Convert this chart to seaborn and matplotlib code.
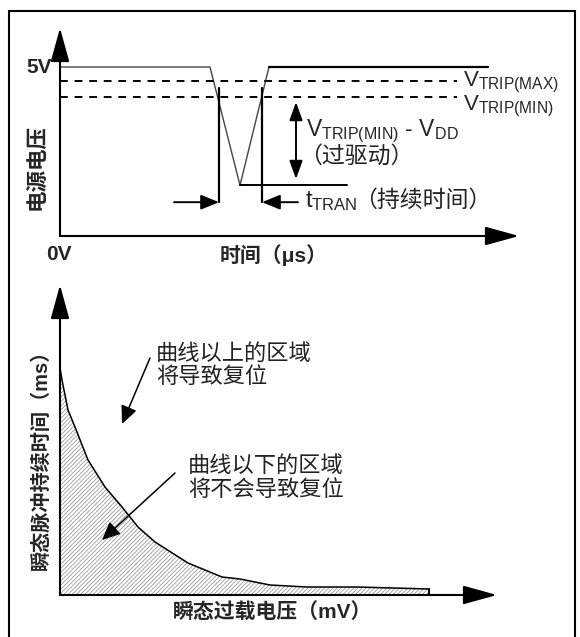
import numpy as np
import pandas as pd
import seaborn as sns
import matplotlib
matplotlib.use("Agg")
import matplotlib.pyplot as plt

sns.set_theme(style="white")
plt.rcParams['font.family'] = ['Liberation Sans', 'Noto Sans CJK SC']
plt.rcParams['mathtext.fontset'] = 'custom'
plt.rcParams['mathtext.rm'] = 'Liberation Sans'
plt.rcParams['mathtext.it'] = 'Liberation Sans'
plt.rcParams['mathtext.default'] = 'regular'
plt.rcParams['hatch.color'] = '#8a8a8a'
plt.rcParams['hatch.linewidth'] = 0.5

# --- top diagram: supply voltage (V) vs time (us) ---
pulse_t = [0, 15.0, 18.0, 20.9]
pulse_v = [5.0, 5.0, 1.5, 5.0]
recover_t = [20.9, 42.8]
recover_v = [5.0, 5.0]
hold_t = [18.0, 28.7]
hold_v = [1.5, 1.5]
trip_max = 4.6
trip_min = 4.1
trip_end = 39.7
cross_t = [15.9, 20.2]
marker_v = [1.0, 4.38]
tran_tail_t = [11.4, 23.8]
overdrive_t = 23.6
overdrive_v = [1.69, 3.96]

# --- bottom diagram: pulse duration (ms) vs overload voltage (mV) ---
overload_mv = [0, 2, 8, 15, 28, 45, 62, 78, 95, 128, 162, 180, 195, 210, 247, 297, 369]
duration_ms = [227, 215, 185, 168, 135, 108, 88, 68, 53, 32, 18, 16, 13, 10, 8, 8, 6]

note_above = ['曲线以上的区域', '将导致复位']
note_below = ['曲线以下的区域', '将不会导致复位']

W, H = 580, 637
fig = plt.figure(figsize=(5.8, 6.37), dpi=100)


def arrow(ax, tip, tail, hl=2.1, hw=0.58, lw=1.5, style='-|>'):
    ax.annotate('', xy=tip, xytext=tail, annotation_clip=False,
                arrowprops=dict(arrowstyle=f'{style},head_length={hl},head_width={hw}',
                                lw=lw, color='black', shrinkA=0, shrinkB=0,
                                mutation_scale=10))


# top axes
ax1 = fig.add_axes([60 / W, (H - 236) / H, (519 - 60) / W, (236 - 28) / H])
ax1.set_xlim(0, 45.9)
ax1.set_ylim(0, 6.154)
ax1.axis('off')

sns.lineplot(x=pulse_t, y=pulse_v, ax=ax1, color='#444444', lw=1.0, sort=False, estimator=None)
sns.lineplot(x=recover_t, y=recover_v, ax=ax1, color='black', lw=1.6, sort=False, estimator=None)
sns.lineplot(x=hold_t, y=hold_v, ax=ax1, color='black', lw=1.4, sort=False, estimator=None)
for lvl in (trip_max, trip_min):
    ax1.plot([0, trip_end], [lvl, lvl], color='black', lw=1.4, ls=(0, (4, 3.5)))
for t in cross_t:
    ax1.plot([t, t], marker_v, color='black', lw=1.6)
arrow(ax1, (cross_t[0], marker_v[0]), (tran_tail_t[0], marker_v[0]), hl=1.1, hw=0.45, lw=1.4)
arrow(ax1, (cross_t[1], marker_v[0]), (tran_tail_t[1], marker_v[0]), hl=1.1, hw=0.45, lw=1.4)
arrow(ax1, (overdrive_t, overdrive_v[1]), (overdrive_t, overdrive_v[0]), hl=1.1, hw=0.4, lw=1.4,
      style='<|-|>')
arrow(ax1, (45.9, 0), (0, 0))
arrow(ax1, (0, 6.154), (0, 0))

ax1.text(-0.8, 5.0, '5V', ha='right', va='center', fontsize=15, fontweight='bold')
ax1.text(-0.1, -0.55, '0V', ha='center', va='center', fontsize=15, fontweight='bold')
ax1.text(21.4, -0.55, '时间（μs）', ha='center', va='center', fontsize=15, fontweight='bold')
ax1.text(-2.3, 2.04, '电源电压', ha='center', va='center', rotation=90, fontsize=15.5,
         fontweight='bold')
ax1.text(40.3, 4.42, r'$V_{TRIP(MAX)}$', ha='left', va='baseline', fontsize=16)
ax1.text(40.3, 3.72, r'$V_{TRIP(MIN)}$', ha='left', va='baseline', fontsize=16)
ax1.text(24.6, 2.95, r'$V_{TRIP(MIN)}$ - $V_{DD}$', ha='left', va='baseline', fontsize=16.5)
ax1.text(23.9, 2.36, '（过驱动）', ha='left', va='center', fontsize=16.5, color='#222222')
ax1.text(24.5, 0.86, r'$t_{TRAN}$', ha='left', va='baseline', fontsize=17)
ax1.text(29.4, 1.06, '（持续时间）', ha='left', va='center', fontsize=16.5, color='#222222')

# bottom axes
ax2 = fig.add_axes([60 / W, (H - 595) / H, (497 - 60) / W, (595 - 285) / H])
ax2.set_xlim(0, 437)
ax2.set_ylim(0, 310)
ax2.axis('off')

ax2.fill_between(overload_mv, duration_ms, 0, facecolor='white', edgecolor='#8a8a8a',
                 hatch='////////', lw=0)
sns.lineplot(x=overload_mv, y=duration_ms, ax=ax2, color='black', lw=1.1, sort=False,
             estimator=None)
ax2.plot([overload_mv[-1], overload_mv[-1]], [0, duration_ms[-1]], color='black', lw=1.4)
arrow(ax2, (437, 0), (0, 0))
arrow(ax2, (0, 310), (0, 0))
arrow(ax2, (62, 171), (90, 237), hl=1.1, hw=0.5, lw=1.1)
arrow(ax2, (42, 55), (115, 122), hl=1.1, hw=0.5, lw=1.1)

for line, y in zip(note_above, [240, 217]):
    ax2.text(96, y, line, ha='left', va='center', fontsize=16, color='#222222')
for line, y in zip(note_below, [128, 105]):
    ax2.text(128, y, line, ha='left', va='center', fontsize=16, color='#222222')
ax2.text(-19, 140, '瞬态脉冲持续时间（ms）', ha='center', va='center', rotation=90,
         fontsize=14.5, fontweight='bold')
ax2.text(213, -18, '瞬态过载电压（mV）', ha='center', va='center', fontsize=15,
         fontweight='bold')

# frame around the whole figure
fig.add_artist(plt.Rectangle((9 / W, -0.02), (575 - 9) / W, (H - 11) / H + 0.02,
                             transform=fig.transFigure, fill=False, lw=1.5, color='black'))

fig.savefig('out.png', dpi=100)
